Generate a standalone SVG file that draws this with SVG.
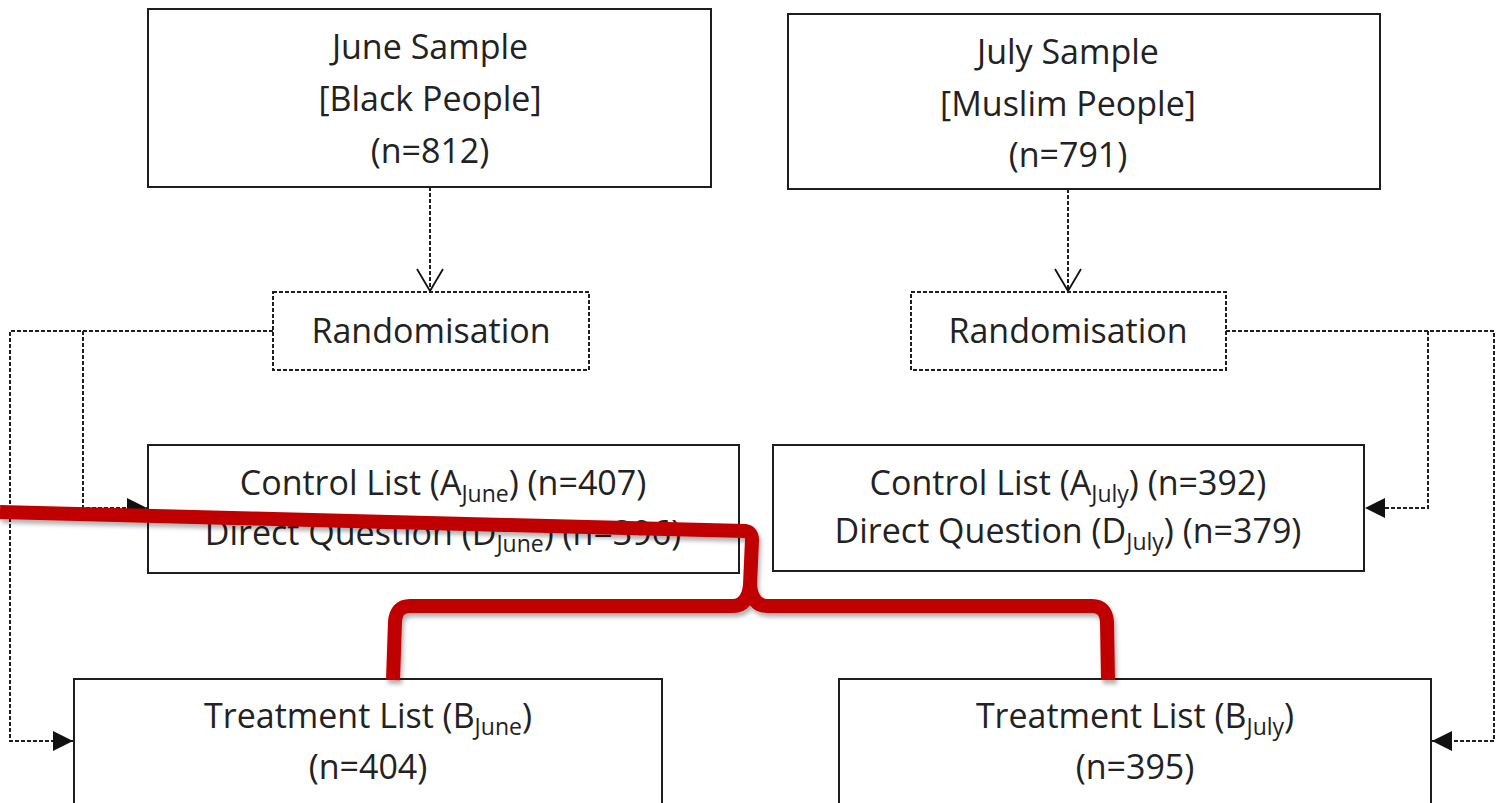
<svg xmlns="http://www.w3.org/2000/svg" width="1499" height="803" viewBox="0 0 1499 803">
<style>
.box{fill:#fff;stroke:#1e1e1e;stroke-width:2}
.dbox{fill:#fff;stroke:#1e1e1e;stroke-width:2;stroke-dasharray:4 2}
.conn{fill:none;stroke:#1e1e1e;stroke-width:2;stroke-dasharray:4 2}
text{font-family:"Open Sans","Liberation Sans",sans-serif;font-size:34px;fill:#222;text-anchor:middle}
.sub{font-size:23px}
.red{fill:none;stroke:#c00000;stroke-width:14;stroke-linejoin:round}
</style>
<defs>
<marker id="tri" viewBox="0 0 20 20" refX="20" refY="10" markerWidth="20" markerHeight="20" markerUnits="userSpaceOnUse" orient="auto">
<path d="M0,0 L20,10 L0,20 Z" fill="#111"/>
</marker>
<marker id="vee" viewBox="0 0 24 28" refX="23" refY="14" markerWidth="24" markerHeight="28" markerUnits="userSpaceOnUse" orient="auto">
<path d="M1,1 L23,14 L1,27" fill="none" stroke="#111" stroke-width="1.8"/>
</marker>
<filter id="sh" x="-5%" y="-20%" width="110%" height="160%">
<feDropShadow dx="2" dy="4" stdDeviation="2" flood-color="#000" flood-opacity="0.3"/>
</filter>
</defs>

<g id="connectors">
<line class="conn" x1="430" y1="187" x2="430" y2="291" marker-end="url(#vee)"/>
<line class="conn" x1="1068" y1="189" x2="1068" y2="291" marker-end="url(#vee)"/>
<polyline class="conn" points="273,331 10,331 10,741 73,741" marker-end="url(#tri)"/>
<polyline class="conn" points="83,331 83,508 147,508" marker-end="url(#tri)"/>
<polyline class="conn" points="1226,331 1494,331 1494,741 1432,741" marker-end="url(#tri)"/>
<polyline class="conn" points="1428,331 1428,508 1365,508" marker-end="url(#tri)"/>
</g>

<g id="june-sample">
<rect class="box" x="148" y="9" width="563" height="178"/>
<text x="430" y="59">June Sample</text>
<text x="430" y="111">[Black People]</text>
<text x="430" y="163">(n=812)</text>
</g>

<g id="july-sample">
<rect class="box" x="788" y="14" width="592" height="175"/>
<text x="1068" y="64">July Sample</text>
<text x="1068" y="116">[Muslim People]</text>
<text x="1068" y="167">(n=791)</text>
</g>

<g id="rand-june">
<rect class="dbox" x="273" y="292" width="316" height="78"/>
<text x="431" y="343">Randomisation</text>
</g>

<g id="rand-july">
<rect class="dbox" x="911" y="292" width="315" height="78"/>
<text x="1068" y="343">Randomisation</text>
</g>

<g id="control-june">
<rect class="box" x="148" y="445" width="591" height="128"/>
<text x="443" y="495">Control List (A<tspan class="sub" dy="7">June</tspan><tspan dy="-7">) (n=407)</tspan></text>
<text x="443" y="545">Direct Question (D<tspan class="sub" dy="7">June</tspan><tspan dy="-7">) (n=396)</tspan></text>
</g>

<g id="control-july">
<rect class="box" x="773" y="445" width="591" height="126"/>
<text x="1068" y="495">Control List (A<tspan class="sub" dy="7">July</tspan><tspan dy="-7">) (n=392)</tspan></text>
<text x="1068" y="543">Direct Question (D<tspan class="sub" dy="7">July</tspan><tspan dy="-7">) (n=379)</tspan></text>
</g>

<g id="treatment-june">
<rect class="box" x="74" y="679" width="588" height="140"/>
<text x="368" y="728">Treatment List (B<tspan class="sub" dy="7">June</tspan><tspan dy="-7">)</tspan></text>
<text x="368" y="779">(n=404)</text>
</g>

<g id="treatment-july">
<rect class="box" x="839" y="679" width="592" height="140"/>
<text x="1135" y="728">Treatment List (B<tspan class="sub" dy="7">July</tspan><tspan dy="-7">)</tspan></text>
<text x="1135" y="779">(n=395)</text>
</g>

<g id="red-annotation" filter="url(#sh)">
<path class="red" d="M0,512 L745,531 Q752,532 752,540 L750,585 Q748,606 733,606 L410,606 Q396,606 395,622 L393,680"/>
<path class="red" d="M750,585 Q752,606 767,606 L1092,606 Q1106,606 1107,622 L1108,680"/>
</g>
</svg>
